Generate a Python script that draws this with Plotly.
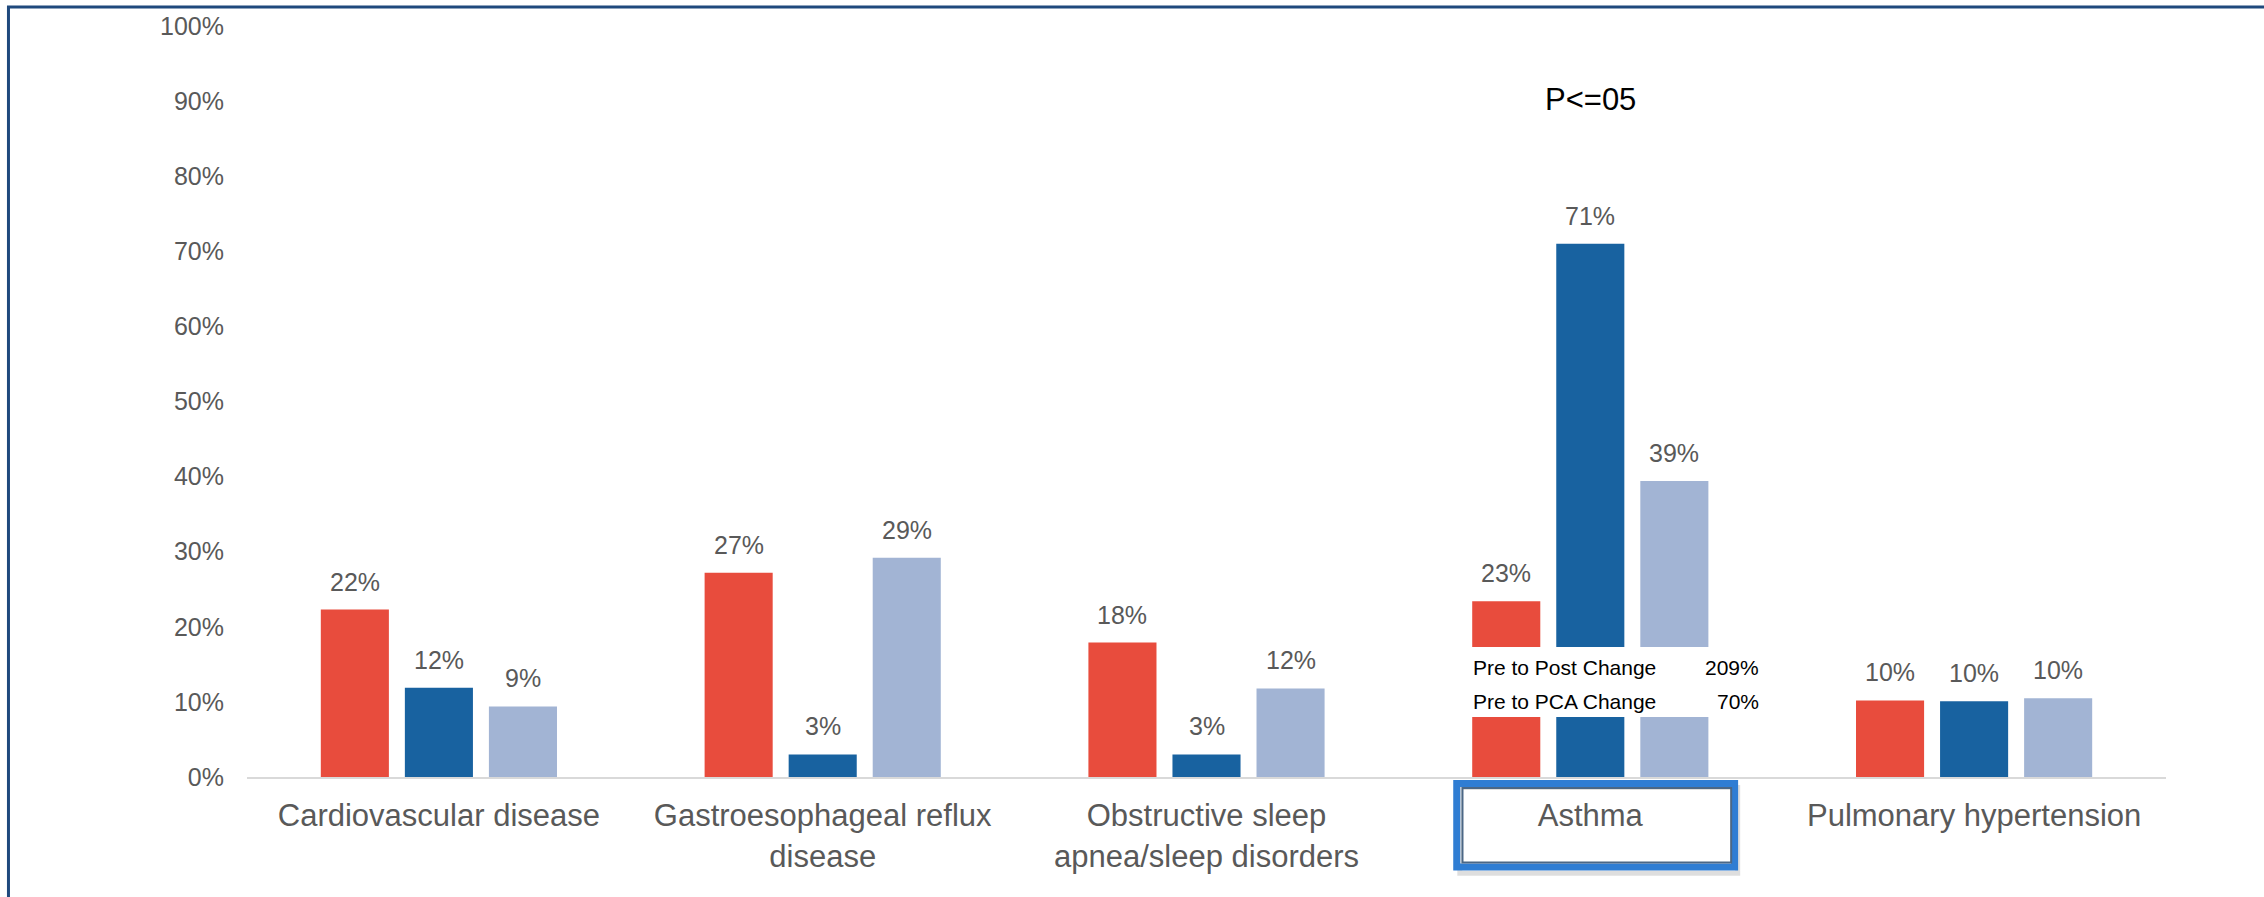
import plotly.graph_objects as go

categories = ["Cardiovascular disease", "Gastroesophageal reflux<br>disease",
              "Obstructive sleep<br>apnea/sleep disorders", "Asthma", "Pulmonary hypertension"]
series_names = ["Pre", "Post", "PCA"]
pre_values = [0.223, 0.272, 0.179, 0.234, 0.102]
post_values = [0.119, 0.030, 0.030, 0.710, 0.101]
pca_values = [0.094, 0.292, 0.118, 0.394, 0.105]
colors = ["#E84C3D", "#1862A0", "#A2B4D4"]
ytick_vals = [i / 10 for i in range(11)]
ytick_text = [f"{i * 10}%" for i in range(11)]
highlight_index = 3
change_labels = ["Pre to Post Change", "Pre to PCA Change"]
change_values = ["209%", "70%"]
p_label = "P<=05"

FONT = "Liberation Sans, Arial, sans-serif"
GRAY = "#595959"
BARGAP = 0.343
GROUPGAP = 0.19

all_series = [pre_values, post_values, pca_values]
fig = go.Figure()
for name, vals, col in zip(series_names, all_series, colors):
    fig.add_trace(go.Bar(x=list(range(len(categories))), y=vals, name=name,
                         marker=dict(color=col, line=dict(width=0)),
                         hoverinfo="skip"))

annotations = []
slot = (1 - BARGAP) / 3
for i, vals in enumerate(all_series):
    for j, v in enumerate(vals):
        annotations.append(dict(x=j + (i - 1) * slot, y=v, xref="x", yref="y",
                                text=f"{round(v * 100)}%", showarrow=False,
                                yanchor="middle", yshift=28,
                                font=dict(family=FONT, size=25, color=GRAY)))

# p-value over asthma
annotations.append(dict(x=highlight_index, y=0.902, xref="x", yref="y", text=p_label,
                        showarrow=False, font=dict(family=FONT, size=31, color="black")))

# change text box
for k, (lab, val) in enumerate(zip(change_labels, change_values)):
    yy = 0.146 - k * 0.045
    annotations.append(dict(x=highlight_index - 0.31, y=yy, xref="x", yref="y", text=lab,
                            showarrow=False, xanchor="left",
                            font=dict(family=FONT, size=21, color="black")))
    annotations.append(dict(x=highlight_index + 0.446, y=yy, xref="x", yref="y", text=val,
                            showarrow=False, xanchor="right",
                            font=dict(family=FONT, size=21, color="black")))

shapes = [
    # white text box covering asthma bars
    dict(type="rect", xref="x", yref="y", x0=highlight_index - 0.33, x1=highlight_index + 0.47,
         y0=0.080, y1=0.173, fillcolor="white", line=dict(width=0), layer="above"),
    # shadow of asthma label box
    dict(type="rect", xref="x", yref="paper", x0=highlight_index - 0.340, x1=highlight_index + 0.384,
         y0=-0.128, y1=-0.014, line=dict(color="rgba(0,0,0,0.13)", width=5), layer="above"),
    # asthma label box
    dict(type="rect", xref="x", yref="paper", x0=highlight_index - 0.348, x1=highlight_index + 0.376,
         y0=-0.120, y1=-0.0086, line=dict(color="#2F7DD3", width=7), layer="above"),
    dict(type="rect", xref="x", yref="paper", x0=highlight_index - 0.333, x1=highlight_index + 0.367,
         y0=-0.114, y1=-0.0146, line=dict(color="#4B6785", width=2), layer="above"),
    # outer frame
    dict(type="rect", xref="paper", yref="paper", x0=-0.1243, x1=1.2, y0=-0.3, y1=1.0252,
         line=dict(color="#1F497D", width=3), layer="above"),
]

fig.update_layout(
    width=2264, height=897,
    margin=dict(l=247, r=98, t=24, b=120, pad=0),
    barmode="group", bargap=BARGAP, bargroupgap=GROUPGAP,
    plot_bgcolor="white", paper_bgcolor="white",
    showlegend=False,
    annotations=annotations,
    shapes=shapes,
    font=dict(family=FONT, color=GRAY),
)
fig.update_xaxes(tickmode="array", tickvals=list(range(len(categories))), ticktext=categories,
                 range=[-0.5, len(categories) - 0.5],
                 showline=True, linecolor="#D9D9D9", linewidth=2, showgrid=False, zeroline=False,
                 ticks="", tickfont=dict(family=FONT, size=31, color=GRAY), ticklabelstandoff=10)
fig.update_yaxes(range=[0, 1], tickmode="array", tickvals=ytick_vals, ticktext=ytick_text,
                 showgrid=False, zeroline=False, showline=False, ticks="",
                 tickfont=dict(family=FONT, size=25, color=GRAY), ticklabelstandoff=22)

fig.write_html("out.html")
